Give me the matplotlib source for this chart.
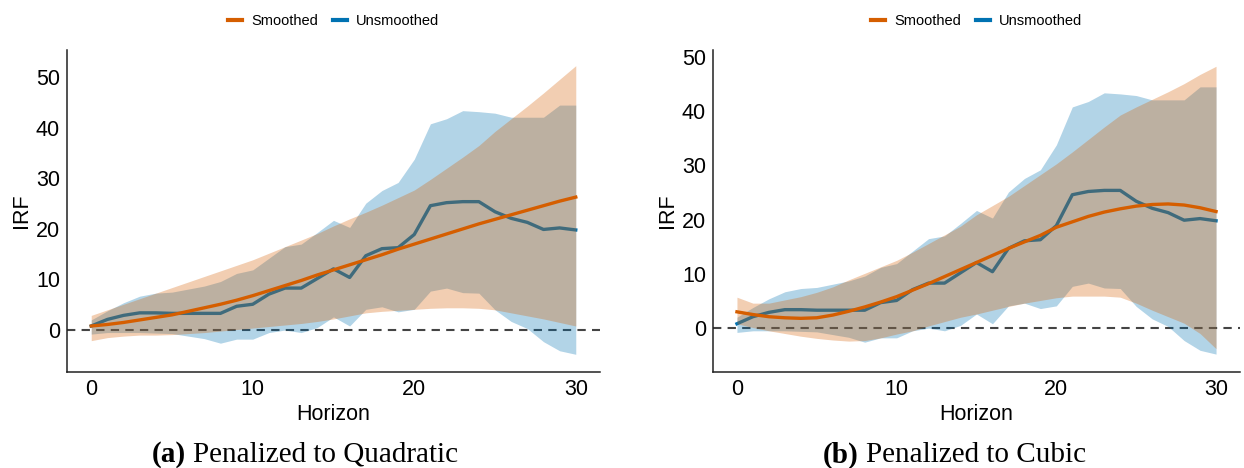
import matplotlib
matplotlib.use("Agg")
import matplotlib.pyplot as plt
from matplotlib.lines import Line2D
import numpy as np

plt.rcParams['font.family'] = ['Liberation Sans', 'DejaVu Sans']

ORANGE = '#D55E00'
BLUE = '#0072B2'

horizon = list(range(31))

# unsmoothed local projection IRF (same in both panels)
unsmoothed = [0.8, 2.1, 2.9, 3.4, 3.4, 3.3, 3.3, 3.3, 3.3, 4.7, 5.1, 7.1, 8.3, 8.3, 10.2, 12.1,
              10.4, 14.7, 16.1, 16.3, 18.9, 24.6, 25.2, 25.4, 25.4, 23.4, 22.1, 21.3, 19.9, 20.2, 19.8]
unsmoothed_hi = [2.0, 3.8, 5.4, 6.7, 7.3, 7.5, 8.1, 8.7, 9.6, 11.2, 11.9, 14.2, 16.5, 17.0, 19.3, 21.7,
                 20.3, 25.1, 27.6, 29.2, 33.8, 40.8, 41.8, 43.4, 43.2, 42.9, 42.1, 42.1, 42.1, 44.5, 44.5]
unsmoothed_lo = [-0.8, -0.5, -0.5, -0.5, -0.6, -0.7, -1.2, -1.7, -2.6, -1.8, -1.8, -0.5, 0.0, -0.5, 0.5, 2.6,
                 0.8, 4.1, 4.6, 3.6, 4.1, 7.7, 8.3, 7.4, 7.3, 4.0, 1.7, 0.3, -2.3, -4.1, -4.8]

# (a) penalized to quadratic
quad = [0.8, 1.1, 1.5, 2.0, 2.5, 3.0, 3.7, 4.4, 5.1, 5.9, 6.8, 7.8, 8.8, 9.8, 10.9, 11.9,
        12.9, 13.9, 14.9, 16.0, 17.0, 18.0, 19.0, 20.0, 21.0, 21.9, 22.8, 23.7, 24.6, 25.5, 26.3]
quad_hi = [2.9, 4.0, 5.1, 6.2, 7.3, 8.4, 9.5, 10.6, 11.7, 12.8, 13.9, 15.2, 16.5, 17.8, 19.1, 20.6,
           22.0, 23.3, 24.7, 26.2, 27.7, 29.8, 32.0, 34.2, 36.5, 39.3, 41.8, 44.3, 46.9, 49.6, 52.3]
quad_lo = [-2.1, -1.5, -1.2, -1.0, -1.0, -0.9, -0.7, -0.5, -0.2, 0.1, 0.4, 0.7, 1.0, 1.3, 1.7, 2.2,
           2.8, 3.4, 3.7, 3.9, 4.1, 4.3, 4.4, 4.4, 4.3, 4.0, 3.4, 2.8, 2.2, 1.5, 0.8]

# (b) penalized to cubic
cubic = [3.0, 2.5, 2.1, 1.9, 1.8, 1.9, 2.4, 3.1, 3.9, 4.8, 5.8, 7.0, 8.2, 9.5, 10.8, 12.1,
         13.4, 14.7, 15.9, 17.1, 18.6, 19.6, 20.6, 21.4, 22.0, 22.5, 22.8, 22.9, 22.7, 22.2, 21.5]
cubic_hi = [5.7, 4.6, 4.6, 5.2, 5.8, 6.6, 7.6, 8.9, 10.1, 11.3, 12.5, 14.0, 15.6, 17.2, 18.8, 20.9,
            22.6, 24.3, 26.3, 28.3, 30.3, 32.5, 34.8, 37.1, 39.3, 40.8, 42.2, 43.6, 45.1, 46.8, 48.3]
cubic_lo = [0.8, 0.1, -0.5, -1.0, -1.5, -1.9, -2.2, -2.4, -2.3, -1.8, -1.1, -0.5, 0.4, 1.2, 2.0, 2.6,
            3.3, 4.0, 4.6, 5.1, 5.6, 5.9, 5.9, 5.9, 5.7, 4.6, 3.3, 2.1, 0.9, -1.0, -3.8]

panels = [
    (quad, quad_lo, quad_hi, (-8.3, 55.4), '(a)', 'Penalized to Quadratic'),
    (cubic, cubic_lo, cubic_hi, (-8.1, 51.3), '(b)', 'Penalized to Cubic'),
]

W, H = 1244, 468
fig = plt.figure(figsize=(W / 100, H / 100), dpi=100)

ax_boxes = [(67, 50, 600, 372), (713, 50, 1240, 372)]
caption_split = [(186, 193), (859, 866)]

for i, (smooth, s_lo, s_hi, ylim, tag, caption) in enumerate(panels):
    x0, y0, x1, y1 = ax_boxes[i]
    ax = fig.add_axes([x0 / W, 1 - y1 / H, (x1 - x0) / W, (y1 - y0) / H])

    ax.axhline(0, color='#444444', lw=1.5, ls=(0, (4, 3)), zorder=1)
    ax.fill_between(horizon, unsmoothed_lo, unsmoothed_hi, color=BLUE, alpha=0.3, lw=0, zorder=2)
    ax.plot(horizon, unsmoothed, color=BLUE, lw=2.4, zorder=3, solid_joinstyle='round')
    ax.fill_between(horizon, s_lo, s_hi, color=ORANGE, alpha=0.3, lw=0, zorder=4)
    ax.plot(horizon, smooth, color=ORANGE, lw=2.4, zorder=5)

    ax.set_xlim(-1.5, 31.5)
    ax.set_ylim(*ylim)
    ax.set_xticks([0, 10, 20, 30])
    ax.set_yticks([0, 10, 20, 30, 40, 50])
    ax.tick_params(length=0, labelsize=15.5, pad=5, colors='black')
    for side in ['top', 'right']:
        ax.spines[side].set_visible(False)
    for side in ['left', 'bottom']:
        ax.spines[side].set_linewidth(1.1)
        ax.spines[side].set_color('#222222')
    ax.set_xlabel('Horizon', fontsize=15.5, labelpad=3)
    ax.set_ylabel('IRF', fontsize=15.5, labelpad=3)

    handles = [Line2D([], [], color=ORANGE, lw=3), Line2D([], [], color=BLUE, lw=3)]
    ax.legend(handles, ['Smoothed', 'Unsmoothed'], loc='center', bbox_to_anchor=(0.5, 1.09),
              ncol=2, frameon=False, fontsize=10.5, handlelength=1.0, handletextpad=0.6,
              columnspacing=1.0)

    bx, rx = caption_split[i]
    fig.text(bx / W, 1 - 455 / H, tag, ha='right', va='center', fontsize=21,
             fontweight='bold', family='Liberation Serif')
    fig.text(rx / W, 1 - 455 / H, caption, ha='left', va='center', fontsize=21,
             family='Liberation Serif')

fig.savefig('out.png', dpi=100)
